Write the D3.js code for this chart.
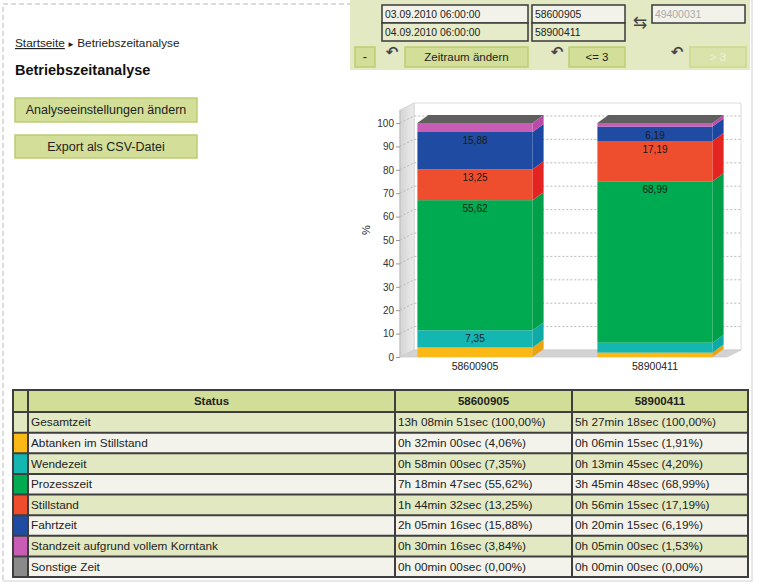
<!DOCTYPE html>
<html><head><meta charset="utf-8">
<script src="https://cdn.jsdelivr.net/npm/d3@7"></script>
<style>body{margin:0;background:#fff}svg{display:block;font-family:"Liberation Sans",Arial,sans-serif}</style>
</head><body><div id="c"></div>
<script>
// ---------- data ----------
const categories = ["58600905", "58900411"];
const statusNames = ["Gesamtzeit", "Abtanken im Stillstand", "Wendezeit", "Prozesszeit", "Stillstand", "Fahrtzeit", "Standzeit aufgrund vollem Korntank", "Sonstige Zeit"];
const seriesNames = statusNames.slice(1);
const values58600905 = [4.06, 7.35, 55.62, 13.25, 15.88, 3.84, 0.00];
const values58900411 = [1.91, 4.20, 68.99, 17.19, 6.19, 1.53, 0.00];
const seriesColors = ["#fbb917", "#14b6b2", "#00aa50", "#ef4e2e", "#1f4ca2", "#c95cb4", "#8a8a8a"];
const sideColors   = ["#e9a40e", "#10aaa6", "#00a04b", "#e42421", "#1b46a2", "#bb4aa9", "#666666"];
const yTicks = [0, 10, 20, 30, 40, 50, 60, 70, 80, 90, 100];
const times58600905 = ["13h 08min 51sec (100,00%)", "0h 32min 00sec (4,06%)", "0h 58min 00sec (7,35%)", "7h 18min 47sec (55,62%)", "1h 44min 32sec (13,25%)", "2h 05min 16sec (15,88%)", "0h 30min 16sec (3,84%)", "0h 00min 00sec (0,00%)"];
const times58900411 = ["5h 27min 18sec (100,00%)", "0h 06min 15sec (1,91%)", "0h 13min 45sec (4,20%)", "3h 45min 48sec (68,99%)", "0h 56min 15sec (17,19%)", "0h 20min 15sec (6,19%)", "0h 05min 00sec (1,53%)", "0h 00min 00sec (0,00%)"];
const dateFrom = "03.09.2010 06:00:00", dateTo = "04.09.2010 06:00:00", otherMachine = "49400031";

// ---------- page ----------
const svg = d3.select("#c").append("svg").attr("width", 758).attr("height", 585);
const defs = svg.append("defs");
const gw = defs.append("linearGradient").attr("id", "wallG").attr("x1", 0).attr("x2", 1).attr("y1", 0).attr("y2", 0);
gw.append("stop").attr("offset", 0).attr("stop-color", "#d4d4d4");
gw.append("stop").attr("offset", 1).attr("stop-color", "#ececec");

// dashed page frame
svg.append("path").attr("d", "M3,580 L3,4 L352,4").attr("fill", "none").attr("stroke", "#b9b9b9").attr("stroke-dasharray", "5,3");
svg.append("line").attr("x1", 752).attr("x2", 752).attr("y1", 0).attr("y2", 581).attr("stroke", "#d0d0d0");
svg.append("line").attr("x1", 3).attr("x2", 752).attr("y1", 581).attr("y2", 581).attr("stroke", "#d0d0d0");

// breadcrumb + title
const bc = svg.append("text").attr("x", 15).attr("y", 47).attr("font-size", 11.8).attr("fill", "#222");
bc.append("tspan").attr("text-decoration", "underline").text("Startseite");
bc.append("tspan").attr("font-size", 8).text(" \u25BA ");
bc.append("tspan").text("Betriebszeitanalyse");
svg.append("text").attr("x", 15).attr("y", 75).attr("font-size", 14.5).attr("font-weight", "bold").attr("fill", "#111").text("Betriebszeitanalyse");

function button(x, y, w, h, label, opts = {}) {
  const g = svg.append("g");
  g.append("rect").attr("x", x).attr("y", y).attr("width", w).attr("height", h)
    .attr("fill", opts.fill || "#d3df98").attr("stroke", opts.stroke || "#bccd72").attr("stroke-width", 1.5);
  g.append("text").attr("x", x + w / 2).attr("y", y + h / 2 + 4).attr("text-anchor", "middle")
    .attr("font-size", opts.size || 12.5).attr("fill", opts.color || "#222").text(label);
}
button(15, 98, 182, 24, "Analyseeinstellungen \u00e4ndern");
button(15, 135, 182, 23, "Export als CSV-Datei");

// top panel
svg.append("rect").attr("x", 350).attr("y", 0).attr("width", 400).attr("height", 70).attr("fill", "#e2e9c3");
function box(x, y, w, h, label, fill, color) {
  svg.append("rect").attr("x", x).attr("y", y).attr("width", w).attr("height", h).attr("fill", fill)
    .attr("stroke", "#3a3a3a").attr("stroke-width", 1.5);
  svg.append("text").attr("x", x + 3).attr("y", y + h / 2 + 3.5).attr("font-size", 10.4).attr("fill", color || "#222").text(label);
}
box(382, 5, 146, 18, dateFrom, "#f2f2ea");
box(382, 23, 146, 18, dateTo, "#e6ecca");
box(532, 5, 93, 18, categories[0], "#f2f2ea");
box(532, 23, 93, 18, categories[1], "#e6ecca");
box(652, 5, 93, 18, otherMachine, "#f2f2ea", "#aaaaaa");
svg.append("text").attr("x", 640).attr("y", 28).attr("text-anchor", "middle").attr("font-size", 17).attr("font-family", "DejaVu Sans").attr("fill", "#444").text("\u21C6");
button(355, 47, 20, 20, "-", { size: 13 });
button(405, 47, 123, 20, "Zeitraum \u00e4ndern", { size: 11.5 });
button(569, 47, 56, 20, "<= 3", { size: 11.5 });
button(690, 47, 56, 20, "> 3", { size: 11.5, fill: "#d9e3aa", stroke: "#cbd88e", color: "#eef1dc" });
[392, 557, 677].forEach(cx => svg.append("text").attr("x", cx).attr("y", 57).attr("text-anchor", "middle")
  .attr("font-size", 15).attr("font-weight", "bold").attr("font-family", "DejaVu Sans").attr("fill", "#444").text("\u21B6"));

// ---------- chart ----------
const y = d3.scaleLinear().domain([0, 100]).range([357, 123]);
const x = d3.scaleBand().domain(categories).range([385, 745]).paddingInner(0.36).paddingOuter(0.18);
const DX = 11, DY = -8;     // bar depth
const WX = 14, WY = -7;     // wall depth
const xL = 400, xR = 727, yTop = 110;
const chart = svg.append("g");
chart.append("polygon").attr("points", [[xL + WX, yTop + WY], [xR + WX, yTop + WY], [xR + WX, y(0) + WY], [xL + WX, y(0) + WY]].join(" "))
  .attr("fill", "#fff").attr("stroke", "#dcdcdc");
chart.append("polygon").attr("points", [[xL, yTop], [xL + WX, yTop + WY], [xL + WX, y(0) + WY], [xL, y(0)]].join(" "))
  .attr("fill", "url(#wallG)").attr("stroke", "#cfcfcf").attr("stroke-width", 0.8);
chart.append("polygon").attr("points", [[xL, y(0)], [xL + WX, y(0) + WY], [xR + WX, y(0) + WY], [xR, y(0)]].join(" "))
  .attr("fill", "#d3d3d3").attr("stroke", "#cacaca").attr("stroke-width", 0.8);
yTicks.filter(t => t > 0).forEach(t => {
  chart.append("path").attr("d", `M${xL},${y(t)} L${xL + WX},${y(t) + WY} L${xR + WX},${y(t) + WY}`)
    .attr("fill", "none").attr("stroke", "#b8b8b8").attr("stroke-dasharray", "2,2");
});
const ax = chart.append("g").attr("transform", `translate(${xL},0)`)
  .call(d3.axisLeft(y).tickValues(yTicks).tickSize(4).tickPadding(2));
ax.select(".domain").attr("stroke", "#bdbdbd").attr("d", `M0,${yTop}V${y(0)}`);
ax.selectAll(".tick line").attr("stroke", "#999");
ax.selectAll(".tick text").attr("font-size", 10).attr("fill", "#333").attr("font-family", "Liberation Sans, Arial");
chart.append("text").attr("transform", `translate(370,230) rotate(-90)`).attr("text-anchor", "middle")
  .attr("font-size", 11).attr("fill", "#222").text("%");

const rows = categories.map((c, i) => {
  const vals = i === 0 ? values58600905 : values58900411;
  const o = { cat: c };
  seriesNames.forEach((s, j) => o[s] = vals[j]);
  return o;
});
const stack = d3.stack().keys(seriesNames)(rows);
stack.forEach((layer, li) => {
  const g = chart.append("g");
  layer.forEach(d => {
    const x0 = x(d.data.cat), x1 = x0 + x.bandwidth();
    const yt = y(d[1]), yb = y(d[0]);
    if (yb - yt > 0) {
      g.append("rect").attr("x", x0).attr("y", yt).attr("width", x.bandwidth()).attr("height", yb - yt).attr("fill", seriesColors[li]);
      g.append("polygon").attr("points", [[x1, yt], [x1 + DX, yt + DY], [x1 + DX, yb + DY], [x1, yb]].join(" ")).attr("fill", sideColors[li]);
    }
    if (li === stack.length - 1) {
      g.append("polygon").attr("points", [[x0, yt], [x0 + DX, yt + DY], [x1 + DX, yt + DY], [x1, yt]].join(" ")).attr("fill", "#5f5f5f");
    }
    const v = d[1] - d[0];
    if (v >= 5) {
      g.append("text").attr("x", (x0 + x1) / 2).attr("y", yt + 12).attr("text-anchor", "middle")
        .attr("font-size", 10).attr("fill", "#1a1a1a").text(d3.format(".2f")(v).replace(".", ","));
    }
  });
});
categories.forEach(c => chart.append("text").attr("x", x(c) + x.bandwidth() / 2).attr("y", 370).attr("text-anchor", "middle")
  .attr("font-size", 10.5).attr("fill", "#222").text(c));

// ---------- table ----------
const tX = [13, 28, 395, 572, 748];
const tTop = 390, headH = 22;
const rowY = d3.scaleLinear().domain([0, statusNames.length]).range([tTop + headH, 577]);
const tbl = svg.append("g");
tbl.append("rect").attr("x", tX[0]).attr("y", tTop).attr("width", tX[4] - tX[0]).attr("height", headH).attr("fill", "#d2de98");
statusNames.forEach((s, i) => {
  const y0 = rowY(i), h = rowY(i + 1) - y0;
  tbl.append("rect").attr("x", tX[0]).attr("y", y0).attr("width", tX[4] - tX[0]).attr("height", h)
    .attr("fill", i % 2 === 0 ? "#e2e9c2" : "#f3f3ec");
  if (i > 0) tbl.append("rect").attr("x", tX[0]).attr("y", y0).attr("width", tX[1] - tX[0]).attr("height", h).attr("fill", seriesColors[i - 1]);
  const ty = y0 + h / 2 + 4;
  tbl.append("text").attr("x", tX[1] + 3).attr("y", ty).attr("font-size", 11.8).attr("fill", "#222").text(s);
  tbl.append("text").attr("x", tX[2] + 3).attr("y", ty).attr("font-size", 11.8).attr("fill", "#222").text(times58600905[i]);
  tbl.append("text").attr("x", tX[3] + 3).attr("y", ty).attr("font-size", 11.8).attr("fill", "#222").text(times58900411[i]);
});
["Status", categories[0], categories[1]].forEach((h, i) => {
  tbl.append("text").attr("x", (tX[i + 1] + tX[i + 2]) / 2).attr("y", tTop + headH / 2 + 4).attr("text-anchor", "middle")
    .attr("font-size", 11.5).attr("font-weight", "bold").attr("fill", "#222").text(h);
});
for (let i = 0; i <= statusNames.length; i++) {
  tbl.append("line").attr("x1", tX[0]).attr("x2", tX[4]).attr("y1", rowY(i)).attr("y2", rowY(i)).attr("stroke", "#3e3e3e").attr("stroke-width", 2);
}
tX.slice(1, 4).forEach(xx => tbl.append("line").attr("x1", xx).attr("x2", xx).attr("y1", tTop).attr("y2", 577).attr("stroke", "#3e3e3e").attr("stroke-width", 2));
tbl.append("rect").attr("x", tX[0]).attr("y", tTop).attr("width", tX[4] - tX[0]).attr("height", 577 - tTop)
  .attr("fill", "none").attr("stroke", "#3e3e3e").attr("stroke-width", 2);
</script></body></html>
